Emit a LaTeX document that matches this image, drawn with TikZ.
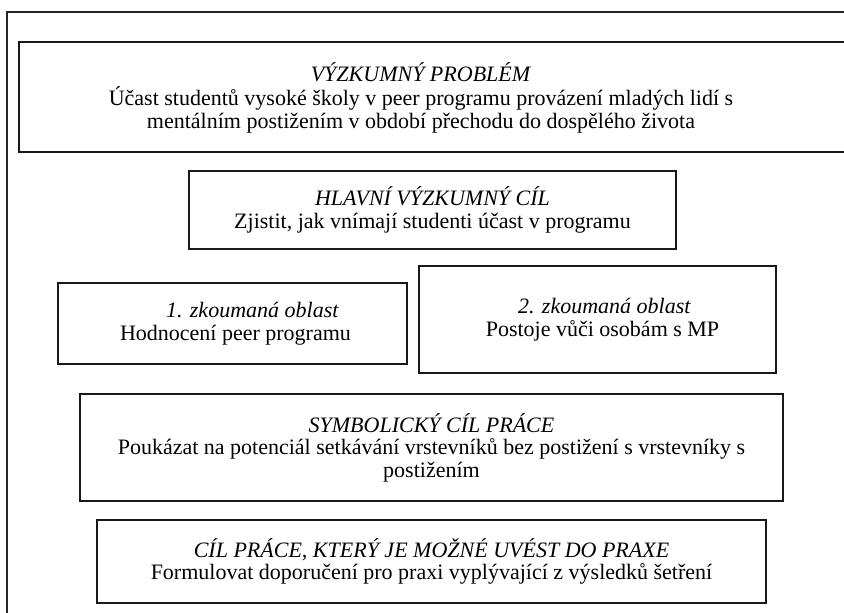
\documentclass[tikz,border=0pt]{standalone}
\usepackage{fontspec}
\setmainfont{Liberation Serif}
\begin{document}
\begin{tikzpicture}[x=1pt,y=-1pt,
  boxed/.style={draw=black!90, line width=2pt, rectangle, inner sep=0pt, align=center,
    font=\fontsize{22}{22.5}\selectfont},
  txt/.style={inner sep=0pt, align=center, font=\fontsize{22}{23.5}\selectfont},
  frame/.style={draw=black!85, line width=1.4pt}]
\useasboundingbox (0,0) rectangle (844,613);
\clip (0,0) rectangle (844,613);
\fill[white] (0,0) rectangle (844,613);
\draw[frame] (7,12) rectangle (900,700);
% box 1
\node[boxed, minimum width=881pt, minimum height=110pt] (b1) at (459.5,97) {};
\node[txt] (t1) at (421,98) {\textit{VÝZKUMNÝ PROBLÉM}\\Účast studentů vysoké školy v peer programu provázení mladých lidí s\\mentálním postižením v období přechodu do dospělého života};
% box 2
\node[boxed, minimum width=487pt, minimum height=78pt] (b2) at (432.5,210)
  {\textit{HLAVNÍ VÝZKUMNÝ CÍL}\\Zjistit, jak vnímají studenti účast v programu};
% box 3
\node[boxed, minimum width=349pt, minimum height=81pt] (b3) at (232.5,323.5)
  {\hspace*{40pt}\textit{1. zkoumaná oblast}\\\hspace*{6pt}Hodnocení peer programu};
% box 4
\node[boxed, minimum width=357pt, minimum height=107pt] (b4) at (597.5,319.5)
  {\hspace*{14pt}\textit{2. zkoumaná oblast}\\\hspace*{10pt}Postoje vůči osobám s MP};
% box 5
\node[boxed, minimum width=703pt, minimum height=107pt] (b5) at (431.5,447.5)
  {\textit{SYMBOLICKÝ CÍL PRÁCE}\\Poukázat na potenciál setkávání vrstevníků bez postižení s vrstevníky s\\postižením};
% box 6
\node[boxed, minimum width=669pt, minimum height=83pt] (b6) at (431.5,561.5)
  {\textit{CÍL PRÁCE, KTERÝ JE MOŽNÉ UVÉST DO PRAXE}\\Formulovat doporučení pro praxi vyplývající z výsledků šetření};
\end{tikzpicture}
\end{document}
